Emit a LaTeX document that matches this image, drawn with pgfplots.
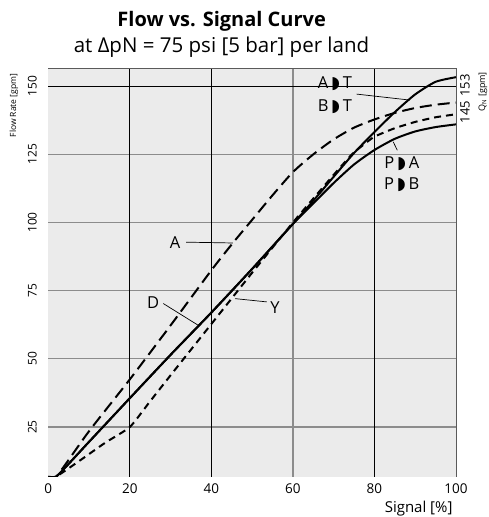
\documentclass[border=0pt]{standalone}
\usepackage{pgfplots}
\pgfplotsset{compat=1.18}
\usepackage{fontspec}
\setmainfont{Open Sans}
\newfontfamily\dejavu{DejaVu Sans}
\definecolor{bg}{HTML}{EBEBEB}
\definecolor{gridgray}{HTML}{8C8C8C}
\definecolor{framec}{HTML}{5A5A5A}
\newcommand{\arr}{{\dejavu\fontsize{17}{17}\selectfont ◗}}
\pgfplotstableread{
x y
0 6.8
2 6.9
10 23.5
20 42.5
30 62.3
40 82.5
45 92
50 101
55 110
60 118.5
65 125
70 130.5
75 134.8
80 137.8
85 140.2
90 142
95 143.2
100 144
}\curveA
\pgfplotstableread{
x y
0 6.8
2 6.9
10 19.6
20 35.6
30 51.5
40 67
50 83
60 99.5
65 108
70 116.8
75 125.5
80 133.2
85 140.5
90 147
95 151.6
100 153.3
}\curveUp
\pgfplotstableread{
x y
0 6.8
2 6.9
10 19.6
20 35.6
30 51.5
40 67
50 83
60 99.5
65 107
70 114.5
75 121.3
80 126.6
85 130.7
90 133.4
95 135
100 136
}\curveLow
\pgfplotstableread{
x y
0 6.8
2 6.9
8 13
14 19.3
20 25
25 34.5
30 44
40 62.8
50 81.6
60 100
65 108.8
70 117.5
74.4 124.9
77.3 128.5
80 131.5
85 134.6
90 136.9
95 138.6
100 139.7
}\curveY
\begin{document}
\begin{tikzpicture}
\begin{axis}[
  scale only axis, width=407.7pt, height=407.7pt,
  xmin=0, xmax=100, ymin=6.8, ymax=156.3,
  axis line style={framec, line width=1.4pt},
  xtick={0,20,...,100}, ytick={25,50,...,150},
  major tick length=0pt,
  /pgf/number format/assume math mode=true,
  xticklabel style={font=\fontsize{13.5}{16}\selectfont, yshift=-3pt},
  yticklabel style={font=\fontsize{12}{14}\selectfont, rotate=90, anchor=south, yshift=8pt},
  clip mode=individual,
]
\coordinate (o) at (rel axis cs:0,0);
\fill[bg] (rel axis cs:0,0) rectangle (rel axis cs:1,1);
% grid
\draw[gridgray, line width=1.2pt] (axis cs:0,25) -- (axis cs:100,25);
\draw[gridgray, line width=1.2pt] (axis cs:0,50) -- (axis cs:100,50);
\draw[gridgray, line width=1.2pt] (axis cs:0,75) -- (axis cs:100,75);
\draw[gridgray, line width=1.2pt] (axis cs:0,100) -- (axis cs:100,100);
\draw[gridgray, line width=1.2pt] (axis cs:0,125) -- (axis cs:100,125);
\draw[gridgray, line width=1.2pt] (axis cs:60,6.8) -- (axis cs:60,156.3);
\draw[black, line width=0.9pt] (axis cs:20,6.8) -- (axis cs:20,156.3);
\draw[black, line width=0.9pt] (axis cs:40,6.8) -- (axis cs:40,156.3);
\draw[black, line width=0.9pt] (axis cs:80,6.8) -- (axis cs:80,156.3);
\draw[black, line width=0.9pt] (axis cs:0,150) -- (axis cs:100,150);
% curves
\addplot[black, line width=2pt, dash pattern=on 12pt off 6pt, smooth, tension=0.4] table {\curveA};
\addplot[black, line width=2pt, smooth, tension=0.4] table {\curveUp};
\addplot[black, line width=2pt, smooth, tension=0.4] table {\curveLow};
\addplot[black, line width=2pt, dash pattern=on 7pt off 5pt, smooth, tension=0.3] table {\curveY};
% labels
\def\lf{\fontsize{16.5}{20}\selectfont}
\node[font=\lf] at (axis cs:31.1,92.8) {A};
\draw[black, line width=0.7pt] (axis cs:33.8,92.8) -- (axis cs:45.3,92.5);
\node[font=\lf] at (axis cs:25.7,70.6) {D};
\draw[black, line width=0.7pt] (axis cs:28.2,70.3) -- (axis cs:36.8,62.3);
\node[font=\lf] at (axis cs:55.6,68.9) {Y};
\draw[black, line width=0.7pt] (axis cs:53.6,70.9) -- (axis cs:45.8,72.1);
\node[font=\lf] at (axis cs:70.3,151.1) {A\,\arr\,T};
\node[font=\lf] at (axis cs:70.3,142.4) {B\,\arr\,T};
\draw[black, line width=0.7pt] (axis cs:75.6,147.1) -- (axis cs:88.7,144.9);
\node[font=\lf] at (axis cs:86.7,121.7) {P\,\arr\,A};
\node[font=\lf] at (axis cs:86.7,113.7) {P\,\arr\,B};
\draw[black, line width=0.7pt] (axis cs:85.6,126.5) -- (axis cs:84.6,129.6);
\end{axis}
% titles and outer labels (1pt = 1px of the reference)
\node[anchor=base, font=\bfseries\fontsize{20}{22}\selectfont] at ([shift={(173.4pt,450pt)}]o) {Flow vs. Signal Curve};
\node[anchor=base, font=\fontsize{20.5}{22}\selectfont] at ([shift={(173.2pt,424.4pt)}]o) {at ΔpN = 75 psi [5 bar] per land};
\node[anchor=base east, font=\fontsize{15}{18}\selectfont] at ([shift={(407.7pt,-35.5pt)}]o) {Signal [\%]};
\node[anchor=east, rotate=90, font=\fontsize{8.5}{10}\selectfont] at ([shift={(-34.3pt,406.5pt)}]o) {Flow Rate [gpm]};
\node[rotate=90, font=\fontsize{13}{15}\selectfont] at ([shift={(416.7pt,391pt)}]o) {153};
\node[rotate=90, font=\fontsize{13}{15}\selectfont] at ([shift={(416.7pt,364.5pt)}]o) {145};
\node[rotate=90, font=\fontsize{9}{11}\selectfont] at ([shift={(434.7pt,385pt)}]o) {Q\textsubscript{N} [gpm]};
\pgfresetboundingbox
\path[use as bounding box] ([shift={(-48.3pt,-40.3pt)}]o) rectangle ++(488pt,517pt);
\end{tikzpicture}
\end{document}
